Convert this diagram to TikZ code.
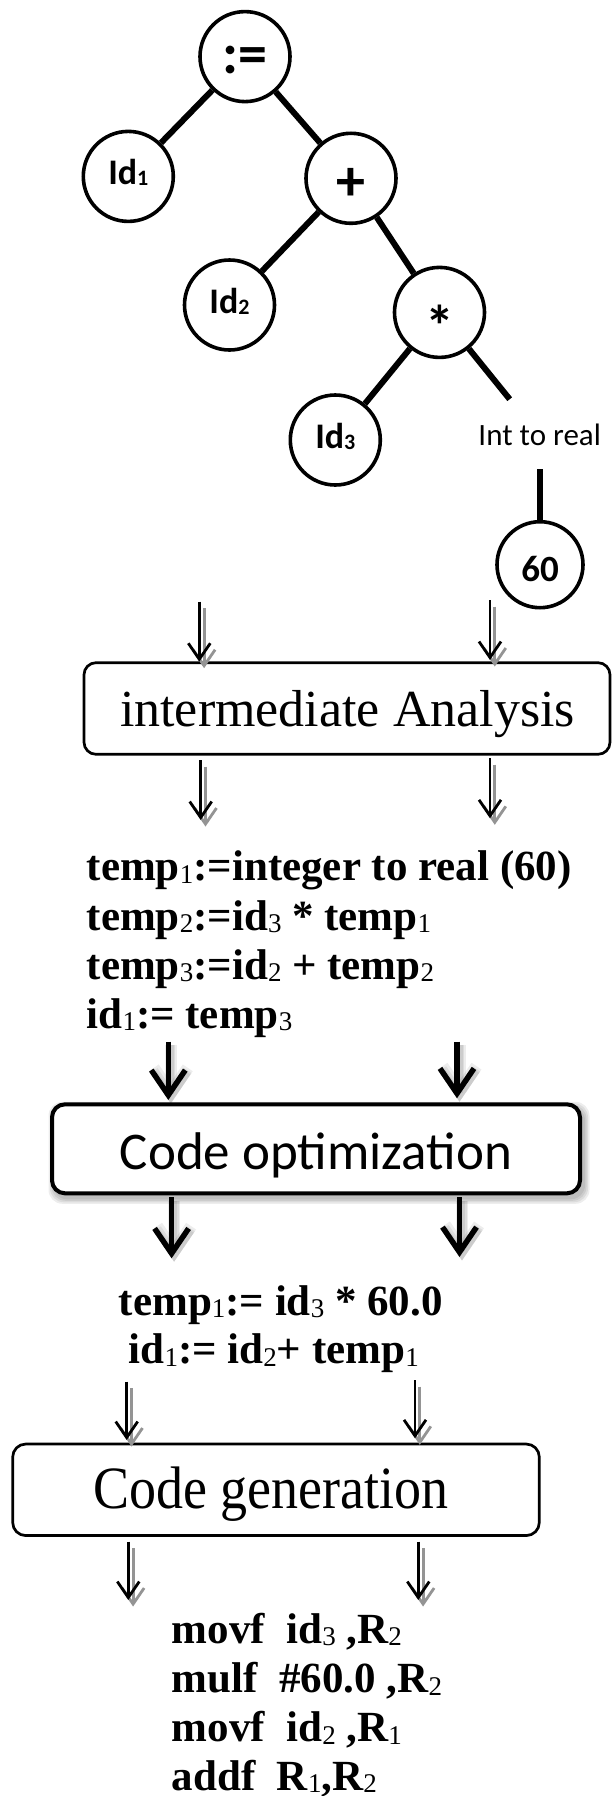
\documentclass[tikz,border=0pt]{standalone}
\usepackage{fontspec}
\setmainfont{Liberation Serif}
\newfontfamily\calib{Carlito}
\newfontfamily\cgenfont[FakeStretch=0.9]{Liberation Serif}
\usetikzlibrary{arrows.meta,calc,backgrounds}
\definecolor{shadgray}{gray}{0.58}
\newcommand\sbx[1]{\raisebox{-2.5pt}{\fontsize{27}{27}\selectfont\mdseries #1}}
\newcommand\csb[1]{\raisebox{-1.5pt}{\fontsize{22}{22}\selectfont #1}}
\newcommand\thinarrow[2]{%
  \draw[thinshad] ($(#1)+(4.8,6.5)$) -- ($(#2)+(4.8,6.5)$);
  \draw[thinarr] (#1) -- (#2);}
\newcommand\thickarrow[2]{%
  \begin{scope}[on background layer]
  \foreach \ww in {12,9,6.5}{\draw[thickarr, line width=\ww pt, opacity=0.07] ($(#1)+(2.5,3.5)$) -- ($(#2)+(2.5,3.5)$);}
  \end{scope}
  \draw[thickarr] (#1) -- (#2);}
\begin{document}
\begin{tikzpicture}[x=1pt,y=-1pt,
  tnode/.style={circle, draw, line width=3.6pt, minimum size=90pt, inner sep=0pt, text depth=0pt, font=\calib\bfseries\fontsize{36}{36}\selectfont},
  opnode/.style={tnode, font=\calib\bfseries\fontsize{58}{58}\selectfont},
  tedge/.style={line width=6pt},
  thinarr/.style={line width=2.8pt, -{Straight Barb[length=16pt,width=22pt]}},
  thinshad/.style={thinarr, draw=shadgray},
  thickarr/.style={line width=5.5pt, -{Straight Barb[length=25pt,width=34pt]}},
  stagebox/.style={draw, fill=white, rounded corners=12pt, line width=2.7pt, inner sep=0pt},
  code/.style={anchor=base west, inner sep=0pt, font=\bfseries\fontsize{43}{49}\selectfont},
  boxtext/.style={anchor=base, inner sep=0pt}
]
\useasboundingbox (0,0) rectangle (611,1796);

% ---------- syntax tree ----------
\node[opnode, text height=34pt] (asg) at (245,56.6) {:=};
\node[tnode, text height=16pt] (id1) at (128.3,176.4) {Id\csb{1}};
\node[opnode, text height=44pt] (plus) at (351,178.3) {+};
\node[tnode, text height=16pt] (id2) at (229.5,305) {Id\csb{2}};
\node[opnode, text height=68pt] (mul) at (439.5,312.4) {*};
\node[tnode, text height=16pt] (id3) at (335.3,440) {Id\csb{3}};
\node[tnode, minimum size=86pt, font=\calib\bfseries\fontsize{37}{37}\selectfont, text height=33pt] (sixty) at (540,564.7) {60};
\node[boxtext, font=\calib\fontsize{31}{31}\selectfont] (int) at (539.7,445.7) {Int to real};
\coordinate (cut) at (509.7,399.2);
\coordinate (intb) at ($(int.south -| sixty.north)+(0,23.3)$);

\draw[tedge] (asg) -- (id1);
\draw[tedge] (asg) -- (plus);
\draw[tedge] (plus) -- (id2);
\draw[tedge] (plus) -- (mul);
\draw[tedge] (mul) -- (id3);
\draw[tedge] (mul) -- (cut);
\draw[tedge] (intb) -- (sixty);

% ---------- intermediate analysis ----------
\node[stagebox, minimum width=526pt, minimum height=91.6pt] (ia) at (347,708.5) {};
\node[boxtext, font=\fontsize{52}{52}\selectfont] (iat) at (347.5,726.7) {intermediate Analysis};

\coordinate (a1s) at (199.3,601.7); \coordinate (a1e) at (199.3,661.7);
\coordinate (a2s) at (490,600);     \coordinate (a2e) at (490,660);
\coordinate (a3s) at (200.7,760);   \coordinate (a3e) at (200.7,820);
\coordinate (a4s) at (490,758);     \coordinate (a4e) at (490,818.3);
\thinarrow{a1s}{a1e}
\thinarrow{a2s}{a2e}
\thinarrow{a3s}{a3e}
\thinarrow{a4s}{a4e}

\node[code] (t1) at (86.5,880.7) {temp\sbx{1}:=integer to real (60)};
\node[code] (t2) at (86.5,930) {temp\sbx{2}:=id\sbx{3} * temp\sbx{1}};
\node[code] (t3) at (86.5,979) {temp\sbx{3}:=id\sbx{2} + temp\sbx{2}};
\node[code] (t4) at (86.5,1028.3) {id\sbx{1}:= temp\sbx{3}};

% ---------- code optimization ----------
\node[stagebox, line width=4pt, rounded corners=13pt, minimum width=528pt, minimum height=89pt] (co) at (316,1148.8) {};
\begin{scope}[on background layer]
\foreach \k in {0,1.5,3,4.5}{
  \fill[black, opacity=0.07, rounded corners=14pt] ($(co.north west)+(3-\k,4-\k)$) rectangle ($(co.south east)+(3+\k,4+\k)$);}
\end{scope}
\node[boxtext, font=\calib\fontsize{53}{53}\selectfont] (cot) at (316,1169.3) {Code optimization};

\coordinate (b1s) at (168.3,1041.7); \coordinate (b1e) at (168.3,1100);
\coordinate (b2s) at (457,1041.7);   \coordinate (b2e) at (457,1098.3);
\coordinate (b3s) at (171.6,1197);   \coordinate (b3e) at (171.6,1258.3);
\coordinate (b4s) at (459.5,1197);   \coordinate (b4e) at (459.5,1257);
\thickarrow{b1s}{b1e}
\thickarrow{b2s}{b2e}
\thickarrow{b3s}{b3e}
\thickarrow{b4s}{b4e}

\node[code] (u1) at (118.6,1315) {temp\sbx{1}:= id\sbx{3} * 60.0};
\node[code] (u2) at (128.5,1363.5) {id\sbx{1}:= id\sbx{2}+ temp\sbx{1}};

% ---------- code generation ----------
\node[stagebox, rounded corners=13pt, minimum width=526.6pt, minimum height=91.5pt] (cg) at (276,1489.8) {};
\node[boxtext, font=\cgenfont\fontsize{60}{60}\selectfont] (cgt) at (271,1508.3) {Code generation};

\coordinate (c1s) at (126.7,1381.7); \coordinate (c1e) at (126.7,1440);
\coordinate (c2s) at (415,1380);     \coordinate (c2e) at (415,1438.3);
\coordinate (c3s) at (128.3,1541.7); \coordinate (c3e) at (128.3,1600);
\coordinate (c4s) at (418.3,1541.7); \coordinate (c4e) at (418.3,1600);
\thinarrow{c1s}{c1e}
\thinarrow{c2s}{c2e}
\thinarrow{c3s}{c3e}
\thinarrow{c4s}{c4e}

\node[code] (v1) at (171.6,1643.3) {movf\ \ id\sbx{3} ,R\sbx{2}};
\node[code] (v2) at (171.6,1692.5) {mulf\ \ \#60.0 ,R\sbx{2}};
\node[code] (v3) at (171.6,1741.7) {movf\ \ id\sbx{2} ,R\sbx{1}};
\node[code] (v4) at (171.6,1790) {addf\ \ R\sbx{1},R\sbx{2}};
\end{tikzpicture}
\end{document}
